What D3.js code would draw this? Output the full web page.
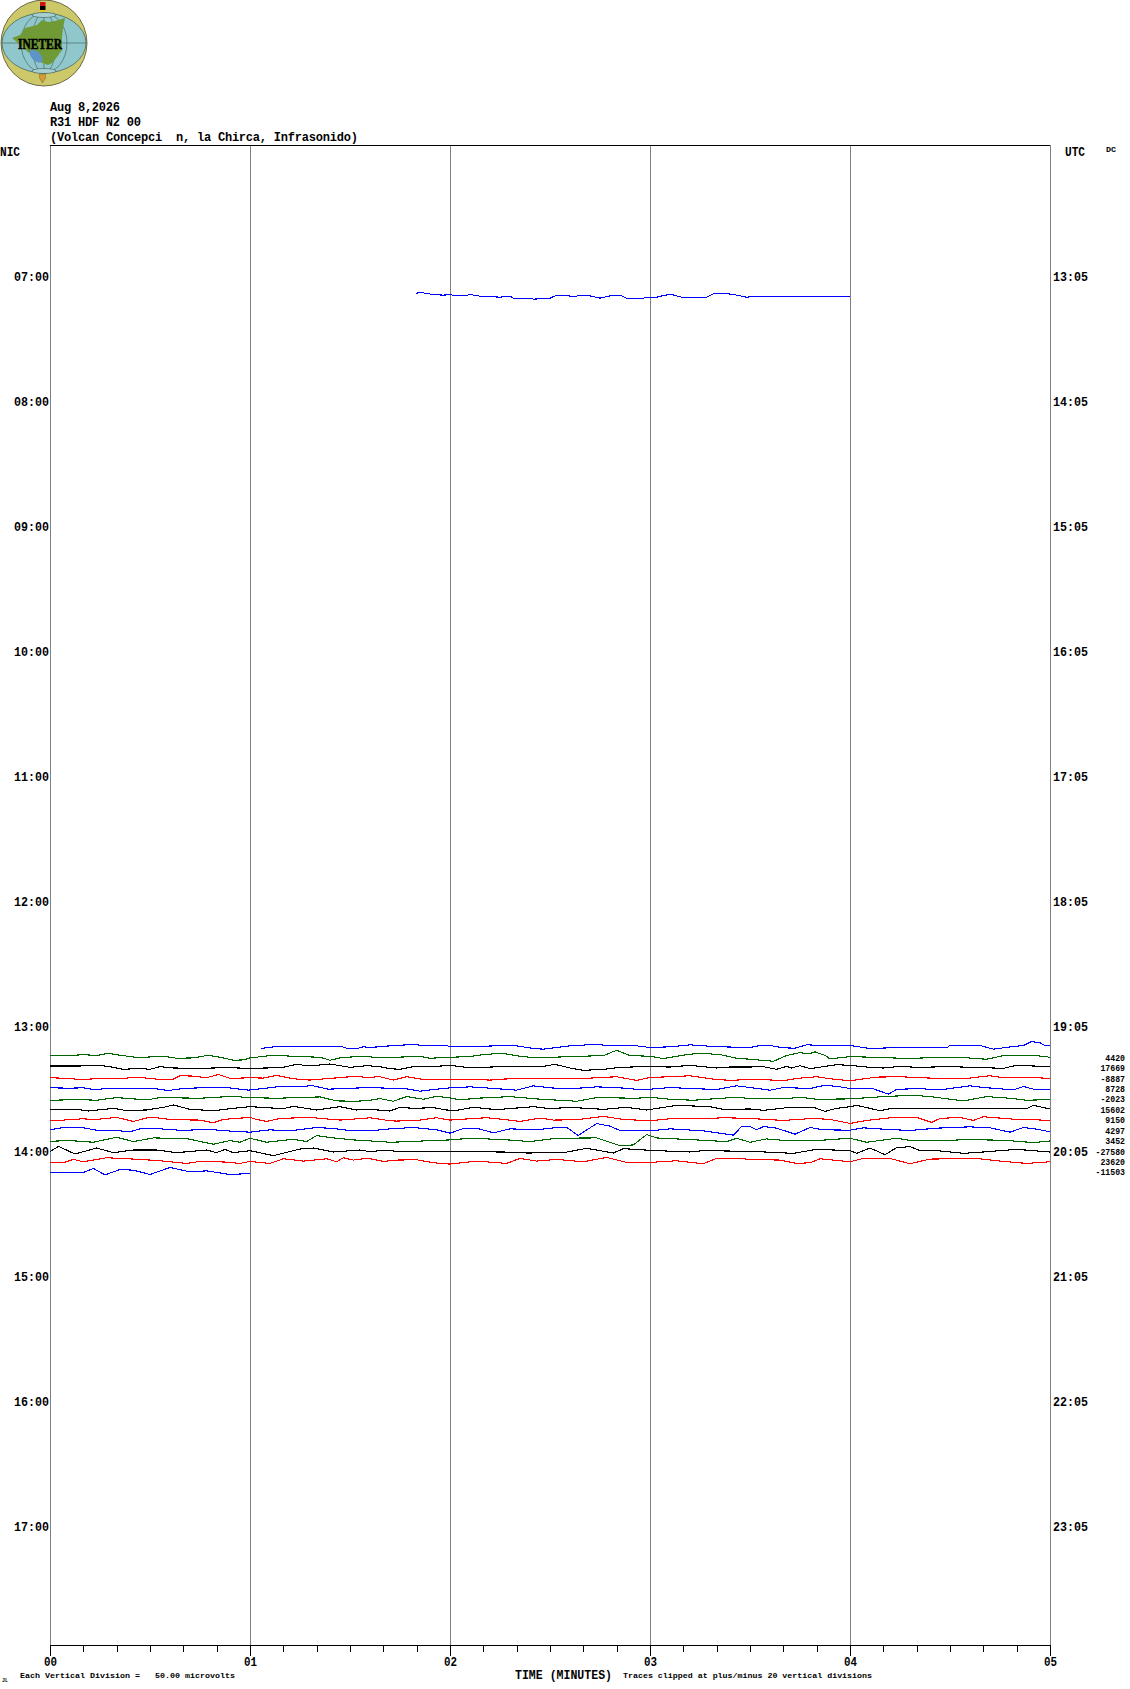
<!DOCTYPE html>
<html><head><meta charset="utf-8">
<script src="https://cdn.jsdelivr.net/npm/d3@7/dist/d3.min.js"></script>
<style>html,body{margin:0;padding:0;background:#fff}svg{display:block}text{font-family:"Liberation Mono",monospace;fill:#000}</style>
</head><body><svg id="c" width="1130" height="1689"></svg>
<script>
const titleLines=["Aug 8,2026","R31 HDF N2 00","(Volcan Concepci  n, la Chirca, Infrasonido)"];
const localHours=[7,8,9,10,11,12,13,14,15,16,17];
const utcLabels=["13:05","14:05","15:05","16:05","17:05","18:05","19:05","20:05","21:05","22:05","23:05"];
const minuteLabels=["00","01","02","03","04","05"];
const traceColors=["#0000ff","#006400","#000000","#ff0000"];
const offsetLabels=["4420","17669","-8887","8728","-2023","15602","9150","4297","3452","-27580","23620","-11503"];

// each trace: [minute within the 5-min row, amplitude]
const t0710=[[1.83,14],[1.858,16],[1.883,13],[1.917,10],[1.967,8],[2,10],[2.025,6],[2.075,6],[2.1,10],[2.15,5],[2.25,2],[2.3,5],[2.317,-1],[2.4,-1],[2.417,-4],[2.5,-1],[2.533,8],[2.583,8],[2.6,5],[2.633,5],[2.65,8],[2.683,8],[2.75,-1],[2.817,8],[2.85,8],[2.883,-1],[2.967,-1],[2.983,2],[3.033,2],[3.1,11],[3.158,2],[3.283,2],[3.325,14],[3.367,14],[3.417,10],[3.483,2],[3.55,5],[4,5]];
const t1310=[[1.055,-2],[1.117,3],[1.25,4],[1.35,4],[1.45,5],[1.483,-1],[1.542,-1],[1.567,3],[1.6,1],[1.7,6],[1.783,9],[1.833,9],[1.867,7],[1.983,7],[2,3],[2.1,3],[2.267,7],[2.333,6],[2.417,-2],[2.467,-4],[2.6,6],[2.717,10],[2.75,9],[2.8,7],[2.933,6],[3,1],[3.1,3],[3.2,9],[3.267,6],[3.358,3],[3.5,1],[3.55,7],[3.6,7],[3.667,0],[3.725,-1],[3.783,9],[3.867,7],[4,7],[4.1,-2],[4.2,0],[4.483,0],[4.5,7],[4.65,7],[4.717,-4],[4.817,4],[4.867,7],[4.908,19],[4.95,15],[4.975,7],[5,6]];
const t1315=[[0,9],[.083,7],[.167,11],[.233,8],[.292,15],[.35,9],[.442,2],[.567,6],[.633,0],[.717,1],[.792,9],[.85,3],[.917,-6],[.967,-5],[1,1],[1.117,9],[1.25,5],[1.35,3],[1.4,-6],[1.45,1],[1.55,6],[1.65,2],[1.733,3],[1.85,6],[1.9,0],[2,3],[2.1,5],[2.167,11],[2.258,15],[2.35,6],[2.433,1],[2.6,5],[2.767,8],[2.833,24],[2.9,8],[3,6],[3.067,-1],[3.183,11],[3.25,15],[3.35,11],[3.433,0],[3.5,-3],[3.617,-9],[3.683,8],[3.75,17],[3.792,13],[3.825,19],[3.875,9],[3.9,-2],[4,5],[4.167,2],[4.3,-1],[4.433,3],[4.567,2],[4.683,-3],[4.767,8],[4.917,9],[5,3]];
const t1320=[[0,8],[.15,8],[.25,10],[.317,4],[.367,-2],[.45,1],[.5,-2],[.55,6],[.617,2],[.75,1],[.883,3],[1,1],[1.083,2],[1.167,4],[1.233,13],[1.3,8],[1.4,14],[1.5,4],[1.583,9],[1.65,6],[1.7,0],[1.75,-2],[1.817,6],[1.933,7],[2,10],[2.083,4],[2.15,4],[2.267,6],[2.383,6],[2.467,7],[2.525,13],[2.6,2],[2.667,-5],[2.767,-2],[2.85,4],[2.967,6],[3.1,5],[3.2,10],[3.333,2],[3.4,5],[3.5,5],[3.567,6],[3.633,-2],[3.683,7],[3.708,2],[3.75,9],[3.8,0],[3.867,6],[3.933,12],[4,10],[4.1,4],[4.167,2],[4.25,7],[4.333,4],[4.5,6],[4.667,3],[4.767,1],[4.833,10],[5,6]];
const t1325=[[0,4],[.1,2],[.15,-2],[.25,2],[.35,1],[.433,6],[.55,-1],[.617,0],[.65,10],[.717,9],[.783,4],[.842,14],[.9,2],[1,4],[1.067,3],[1.133,11],[1.217,1],[1.3,-3],[1.4,2],[1.5,7],[1.55,7],[1.6,4],[1.642,8],[1.717,-3],[1.783,7],[1.867,-1],[2,-1],[2.1,0],[2.2,-3],[2.267,0],[2.35,2],[2.433,2],[2.6,1],[2.7,3],[2.833,7],[2.933,-4],[3,5],[3.1,7],[3.2,10],[3.317,0],[3.4,-4],[3.5,-1],[3.583,-2],[3.667,-5],[3.733,2],[3.833,7],[3.9,1],[4,-5],[4.133,6],[4.25,7],[4.367,4],[4.467,1],[4.583,2],[4.7,10],[4.767,4],[4.867,6],[5,2]];
const t1330=[[0,5],[.1,4],[.167,5],[.217,0],[.3,3],[.417,4],[.533,2],[.592,-3],[.667,3],[.75,5],[.883,6],[.992,-2],[1.067,3],[1.133,8],[1.25,8],[1.308,12],[1.392,1],[1.517,4],[1.6,6],[1.683,4],[1.783,2],[1.85,-5],[1.933,1],[2,5],[2.1,8],[2.2,4],[2.333,-2],[2.417,11],[2.5,5],[2.6,2],[2.733,8],[2.85,5],[2.967,-1],[3.1,6],[3.2,3],[3.333,0],[3.433,11],[3.5,6],[3.6,-2],[3.667,6],[3.8,3],[3.875,13],[3.95,8],[4,3],[4.117,2],[4.192,-14],[4.233,0],[4.333,3],[4.45,-1],[4.6,11],[4.667,6],[4.817,-1],[4.867,9],[4.917,1],[5,0]];
const t1335=[[0,-1],[.15,1],[.233,-1],[.333,7],[.483,0],[.55,7],[.75,5],[.917,11],[.992,7],[1.133,5],[1.35,9],[1.433,-3],[1.533,-4],[1.6,-1],[1.65,4],[1.717,-4],[1.783,10],[1.867,2],[1.933,11],[2,6],[2.05,0],[2.133,5],[2.3,10],[2.433,3],[2.633,-4],[2.733,7],[2.933,5],[3,8],[3.1,2],[3.217,-1],[3.433,8],[3.5,4],[3.667,3],[3.75,8],[3.833,2],[4,3],[4.167,10],[4.317,14],[4.4,10],[4.567,-3],[4.683,10],[4.8,5],[4.883,-1],[5,1]];
const t1340=[[0,3],[.133,3],[.192,-2],[.317,6],[.375,0],[.483,1],[.567,9],[.617,16],[.7,3],[.817,-1],[.917,6],[1,11],[1.167,5],[1.217,12],[1.333,1],[1.45,11],[1.533,1],[1.6,3],[1.7,-2],[1.75,9],[1.817,6],[1.917,8],[1.983,1],[2.033,0],[2.117,9],[2.233,2],[2.417,11],[2.5,5],[2.6,9],[2.767,3],[2.883,9],[2.983,1],[3.133,15],[3.3,11],[3.367,3],[3.5,4],[3.567,0],[3.7,9],[3.817,9],[3.875,-3],[3.933,6],[4,11],[4.033,15],[4.15,-1],[4.2,5],[4.433,5],[4.667,6],[4.883,5],[4.917,15],[5,4]];
const t1345=[[0,2],[.067,2],[.167,6],[.217,3],[.333,10],[.417,-2],[.5,11],[.617,3],[.75,2],[.817,-6],[.867,4],[1,10],[1.033,4],[1.083,-2],[1.15,7],[1.3,10],[1.45,2],[1.583,8],[1.6,9],[1.7,0],[1.733,-1],[1.85,2],[1.933,9],[2,2],[2.1,6],[2.183,9],[2.267,4],[2.35,-2],[2.45,8],[2.517,2],[2.633,3],[2.767,13],[2.867,4],[3,0],[3.1,6],[3.267,6],[3.367,9],[3.5,7],[3.55,5],[3.667,1],[3.817,7],[3.9,4],[4,-8],[4.083,1],[4.233,11],[4.333,10],[4.408,-5],[4.45,7],[4.55,10],[4.617,1],[4.667,12],[4.833,4],[4.917,3],[5,1]];
const t1350=[[0,4],[.067,11],[.167,10],[.25,1],[.35,1],[.4,-2],[.45,7],[.55,7],[.667,2],[.783,6],[.883,1],[1,-3],[1.1,4],[1.2,1],[1.333,11],[1.417,8],[1.5,2],[1.6,1],[1.7,7],[1.817,11],[1.933,4],[2,-6],[2.067,8],[2.133,9],[2.217,-5],[2.3,7],[2.433,4],[2.55,12],[2.583,11],[2.642,-13],[2.733,23],[2.8,15],[2.85,2],[3,1],[3.1,7],[3.267,1],[3.417,-12],[3.458,14],[3.5,14],[3.533,4],[3.567,14],[3.633,9],[3.725,-9],[3.8,11],[3.867,4],[4,3],[4.067,10],[4.167,6],[4.3,2],[4.433,9],[4.6,13],[4.7,10],[4.8,-3],[4.867,11],[4.933,6],[5,-2]];
const t1355=[[0,1],[.1,3],[.217,-2],[.333,13],[.417,0],[.517,11],[.683,9],[.817,-8],[.9,3],[.95,-2],[1,10],[1.083,-2],[1.217,7],[1.283,0],[1.333,18],[1.417,11],[1.517,5],[1.6,2],[1.7,-2],[1.8,0],[1.9,3],[2,5],[2.1,10],[2.267,6],[2.4,0],[2.533,10],[2.733,11],[2.85,-12],[2.917,-10],[2.983,21],[3.033,11],[3.2,6],[3.383,0],[3.433,10],[3.5,-2],[3.583,8],[3.683,3],[3.833,3],[4,10],[4.083,-2],[4.233,10],[4.317,2],[4.433,2],[4.583,6],[4.767,4],[4.917,-3],[5,2]];
const t1400=[[0,1],[.042,17],[.125,-6],[.233,12],[.317,-2],[.417,6],[.533,6],[.633,-2],[.783,6],[.833,-2],[.875,8],[.917,-2],[1,4],[1.117,-11],[1.25,9],[1.317,12],[1.417,0],[1.55,6],[1.6,1],[1.667,5],[1.767,1],[2,1],[2.267,0],[2.383,-3],[2.567,-2],[2.683,11],[2.817,-3],[2.867,10],[3,5],[3.2,0],[3.267,4],[3.5,2],[3.717,-4],[3.833,8],[4,4],[4.033,-4],[4.1,12],[4.175,-8],[4.233,13],[4.3,16],[4.35,4],[4.433,4],[4.567,-4],[4.667,0],[4.833,8],[5,0]];
const t1405=[[0,0],[.067,-1],[.117,9],[.167,2],[.283,14],[.45,9],[.55,5],[.683,-3],[.75,3],[.883,1],[.95,-3],[1,3],[1.1,-3],[1.167,11],[1.267,4],[1.383,11],[1.433,2],[1.467,14],[1.517,7],[1.567,11],[1.6,11],[1.667,3],[1.733,7],[1.833,8],[1.917,-1],[2,-5],[2.133,4],[2.283,-3],[2.35,12],[2.433,4],[2.533,9],[2.667,2],[2.783,15],[2.883,0],[3,0],[3.133,5],[3.267,-4],[3.333,12],[3.433,13],[3.5,9],[3.65,7],[3.733,-3],[3.8,-1],[3.85,11],[4,2],[4.067,12],[4.2,12],[4.3,-4],[4.4,10],[4.633,12],[4.733,5],[4.883,-3],[5,2]];
const t1410=[[0,1],[.167,1],[.217,13],[.275,-6],[.35,10],[.417,8],[.5,-5],[.6,16],[.7,3],[.783,6],[.9,-5],[1,-2]];

// [local start hour, samples]; colours cycle through traceColors
const traces=[[7+10/60,t0710,0],[13+10/60,t1310,0],[13.25,t1315,1],[13+20/60,t1320,2],[13+25/60,t1325,3],[13.5,t1330,0],[13+35/60,t1335,1],[13+40/60,t1340,2],[13.75,t1345,3],[13+50/60,t1350,0],[13+55/60,t1355,1],[14,t1400,2],[14+5/60,t1405,3],[14+10/60,t1410,0]];

const svg=d3.select("#c");
const x=d3.scaleLinear().domain([0,5]).range([50,1050]);
const y=d3.scaleLinear().domain([6,18]).range([152,1652]);
const top_=145,bottom=1645;
const amp=d3.scaleLinear().domain([-60,60]).range([20,-20]);
svg.append("rect").attr("width",1130).attr("height",1689).attr("fill","#fff");

// Logo
const logo=svg.append("g").attr("shape-rendering","geometricPrecision");
logo.append("circle").attr("cx",44).attr("cy",43).attr("r",43).attr("fill","#cdc96a").attr("stroke","#4a4a30").attr("stroke-width",.8);
logo.append("ellipse").attr("cx",44).attr("cy",43).attr("rx",42).attr("ry",30).attr("fill","#8fc7cc").attr("stroke","#3d5a50").attr("stroke-width",.7);
for(const [rx,ry] of [[23,30],[12,30]]) logo.append("ellipse").attr("cx",44).attr("cy",43).attr("rx",rx).attr("ry",ry).attr("fill","none").attr("stroke","#3d5a50").attr("stroke-width",.6);
logo.append("path").attr("d","M2 43H86M44 12V74").attr("stroke","#3d5a50").attr("stroke-width",.6).attr("fill","none");
const land=[[12,38],[20,35],[25,28],[37,25],[42,20],[48,22],[55,21],[65,18],[63,28],[62,37],[62,50],[57,57],[52,63],[48,65],[40,62],[33,55],[28,52],[22,47],[17,42]];
logo.append("path").attr("d",d3.line().curve(d3.curveLinearClosed)(land)).attr("fill","#6f9a35");
logo.append("ellipse").attr("cx",36).attr("cy",56).attr("rx",8).attr("ry",4.5).attr("transform","rotate(45 36 56)").attr("fill","#5f94c8");
for(const cy of [15,71]) logo.append("ellipse").attr("cx",44).attr("cy",cy).attr("rx",12).attr("ry",2.5).attr("fill","#a6d0d2").attr("stroke","#3d5a50").attr("stroke-width",.6);
logo.append("rect").attr("x",40).attr("y",2).attr("width",5.5).attr("height",4).attr("fill","#c81414");
logo.append("rect").attr("x",40).attr("y",6).attr("width",5.5).attr("height",4).attr("fill","#000");
logo.append("rect").attr("x",40).attr("y",10).attr("width",5.5).attr("height",2).attr("fill","#e8c828");
logo.append("path").attr("d","M39.5 74H45.5V78L42.5 83L39.5 78Z").attr("fill","#d99a30").attr("stroke","#555").attr("stroke-width",.4);
logo.append("text").attr("x",40).attr("y",49).attr("text-anchor","middle").attr("textLength",44).attr("lengthAdjust","spacingAndGlyphs").attr("stroke","#000").attr("stroke-width",.5).style("font-family","Liberation Serif").style("font-weight","bold").attr("font-size",14).text("INETER");

// Title
svg.append("g").selectAll("text").data(titleLines).join("text").attr("x",50).attr("y",(d,i)=>111+i*15.2)
 .attr("font-size",12).attr("font-weight","bold").attr("textLength",d=>d.length*7).style("white-space","pre").text(d=>d);

// Grid
svg.append("g").selectAll("line").data(d3.range(0,6)).join("line").attr("x1",d=>x(d)+.5).attr("x2",d=>x(d)+.5).attr("y1",top_).attr("y2",bottom).attr("stroke","#808080").attr("stroke-width",1).attr("shape-rendering","crispEdges");
svg.append("line").attr("x1",50).attr("x2",1050).attr("y1",top_+.5).attr("y2",top_+.5).attr("stroke","#000").attr("shape-rendering","crispEdges");

// Traces
const line=d3.line().x(d=>x(d[0])).curve(d3.curveLinear);
svg.append("g").attr("fill","none").attr("stroke-width",1.1).attr("shape-rendering","crispEdges").selectAll("path").data(traces).join("path")
 .attr("stroke",d=>traceColors[d[2]])
 .attr("d",d=>line.y(p=>y(d[0])+amp(p[1]))(d[1]));

// Time axes
const tf=d3.format("02");
const left=d3.axisLeft(y).tickValues(localHours).tickSize(0).tickPadding(0).tickFormat(h=>tf(h)+":00");
const gl=svg.append("g").attr("transform","translate(49,-1)").call(left);
const right=d3.axisRight(y).tickValues(localHours).tickSize(0).tickPadding(0).tickFormat((h,i)=>utcLabels[i]);
const gr=svg.append("g").attr("transform","translate(1053,-1)").call(right);
for(const g of [gl,gr]){g.select(".domain").remove();g.selectAll("text").attr("font-size",12.5).attr("font-weight","bold").attr("textLength",35).attr("lengthAdjust","spacingAndGlyphs").attr("font-family",null);}

// Bottom axis
const minor=d3.axisBottom(x).tickValues(d3.range(0,31).map(i=>i/6)).tickSize(7).tickFormat("");
const gm=svg.append("g").attr("transform",`translate(0,${bottom})`).call(minor);
gm.selectAll("path,line").attr("stroke","#000").attr("shape-rendering","crispEdges");
gm.select(".domain").attr("d",`M50,0.5H1050`);
const major=d3.axisBottom(x).tickValues([0,1,2,3,4,5]).tickSize(11).tickPadding(0).tickFormat((d,i)=>minuteLabels[i]);
const gM=svg.append("g").attr("transform",`translate(0,${bottom})`).call(major);
gM.select(".domain").remove();
gM.selectAll("line").attr("stroke","#000").attr("shape-rendering","crispEdges");
gM.selectAll("text").attr("font-size",13).attr("font-weight","bold").attr("textLength",13).attr("lengthAdjust","spacingAndGlyphs").attr("font-family",null).attr("y",12).attr("dy","0.71em");

// Row offset labels
svg.append("g").selectAll("text").data(offsetLabels).join("text").attr("x",1125).attr("text-anchor","end")
 .attr("y",(d,i)=>y(13.25+i*5/60)+2.5).attr("font-size",8.2).attr("font-weight","bold").text(d=>d);

// Other text
function label(t,xp,yp,size,len,weight){svg.append("text").attr("x",xp).attr("y",yp).attr("font-size",size).attr("font-weight",weight||"normal").attr("textLength",len).attr("lengthAdjust","spacingAndGlyphs").style("white-space","pre").text(t);}
label("NIC",0,156,12.5,20,"bold");
label("UTC",1067-2,156,13,20,"bold");
label("DC",1106,152,7.5,10,"bold");
label("TIME (MINUTES)",515,1679,13,97,"bold");
label("Each Vertical Division =   50.00 microvolts",20,1678,8,215,"bold");
label("Traces clipped at plus/minus 20 vertical divisions",623,1678,8,249,"bold");
label("JL",2,1682,5,6,"bold");
</script></body></html>
